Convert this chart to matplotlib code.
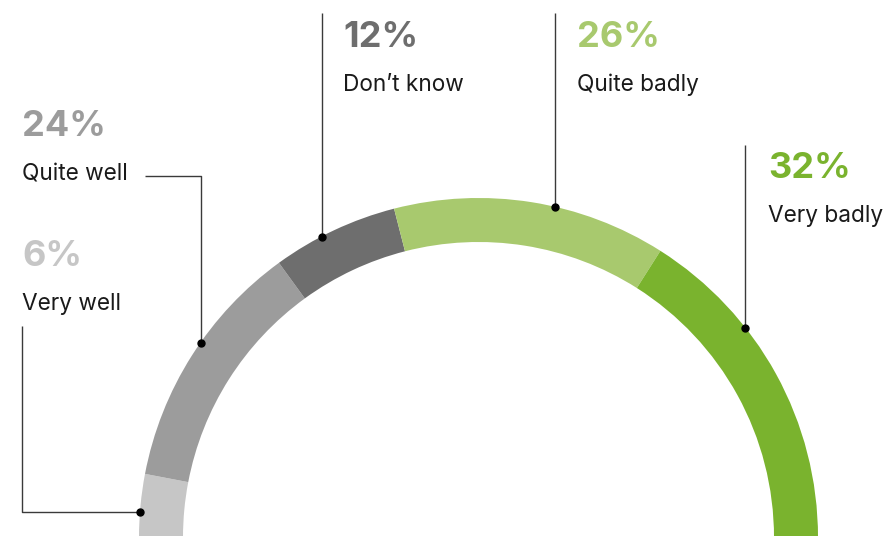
import numpy as np
import matplotlib.pyplot as plt

# survey answers, left to right along the arc
labels = ['Very well', 'Quite well', 'Don\u2019t know', 'Quite badly', 'Very badly']
values = [6, 24, 12, 26, 32]
colors = ['#c6c6c6', '#9c9c9c', '#6e6e6e', '#a8c96e', '#7ab32e']

W, H = 887, 536
cx, cy = 478.5, -1.5          # arc centre in pixel units (y up)
r_out, ring = 339.5, 44

# where along each segment the leader dot sits (0 = start, 1 = end)
anchor_frac = [0.39, 0.56, 0.39, 0.59, 0.34]
# text block: left x, baseline y of the percentage (pixels from top)
text_pos = [(22, 266), (22, 136), (343, 47), (577, 47), (768, 178)]
# leader line paths from the text side to the dot (pixels from top), dot appended later
leader_paths = [
    [(22, 326), (22, 512)],
    [(145, 175.5), (201.5, 175.5)],
    [(322, 13)],
    [(555, 13)],
    [(745.5, 145)],
]

plt.rcParams['font.family'] = ['Inter', 'DejaVu Sans']

fig = plt.figure(figsize=(W / 100, H / 100), dpi=100)
ax = fig.add_axes([0, 0, 1, 1])

# half donut: the extra invisible wedge takes the lower half
wedges, _ = ax.pie(values + [sum(values)], startangle=180, counterclock=False,
                   radius=r_out, center=(cx, cy), colors=colors + ['none'],
                   wedgeprops=dict(width=ring, linewidth=0))
ax.set_xlim(0, W)
ax.set_ylim(0, H)
ax.set_aspect('equal')
ax.axis('off')

total = sum(values)
start = 180.0
for i, v in enumerate(values):
    span = v / total * 180.0
    ang = np.radians(start - anchor_frac[i] * span)
    start -= span
    dx, dy = cx + r_out * np.cos(ang), cy + r_out * np.sin(ang)

    pts = [(x, H - y) for x, y in leader_paths[i]]
    if i == 0:
        pts.append((dx, pts[-1][1]))
    else:
        pts.append((pts[-1][0], dy))
    xs, ys = zip(*pts)
    ax.plot(xs, ys, color='#3a3a3a', lw=1.0, solid_capstyle='butt')
    ax.plot(pts[-1][0], pts[-1][1], 'o', color='black', ms=5)

    tx, ty = text_pos[i]
    ax.text(tx, H - ty, f'{v}%', color=colors[i], fontsize=26,
            fontweight='bold', ha='left', va='baseline')
    ax.text(tx, H - ty - 44, labels[i], color='#1a1a1a', fontsize=16.3,
            ha='left', va='baseline')

fig.savefig('out.png', dpi=100)
